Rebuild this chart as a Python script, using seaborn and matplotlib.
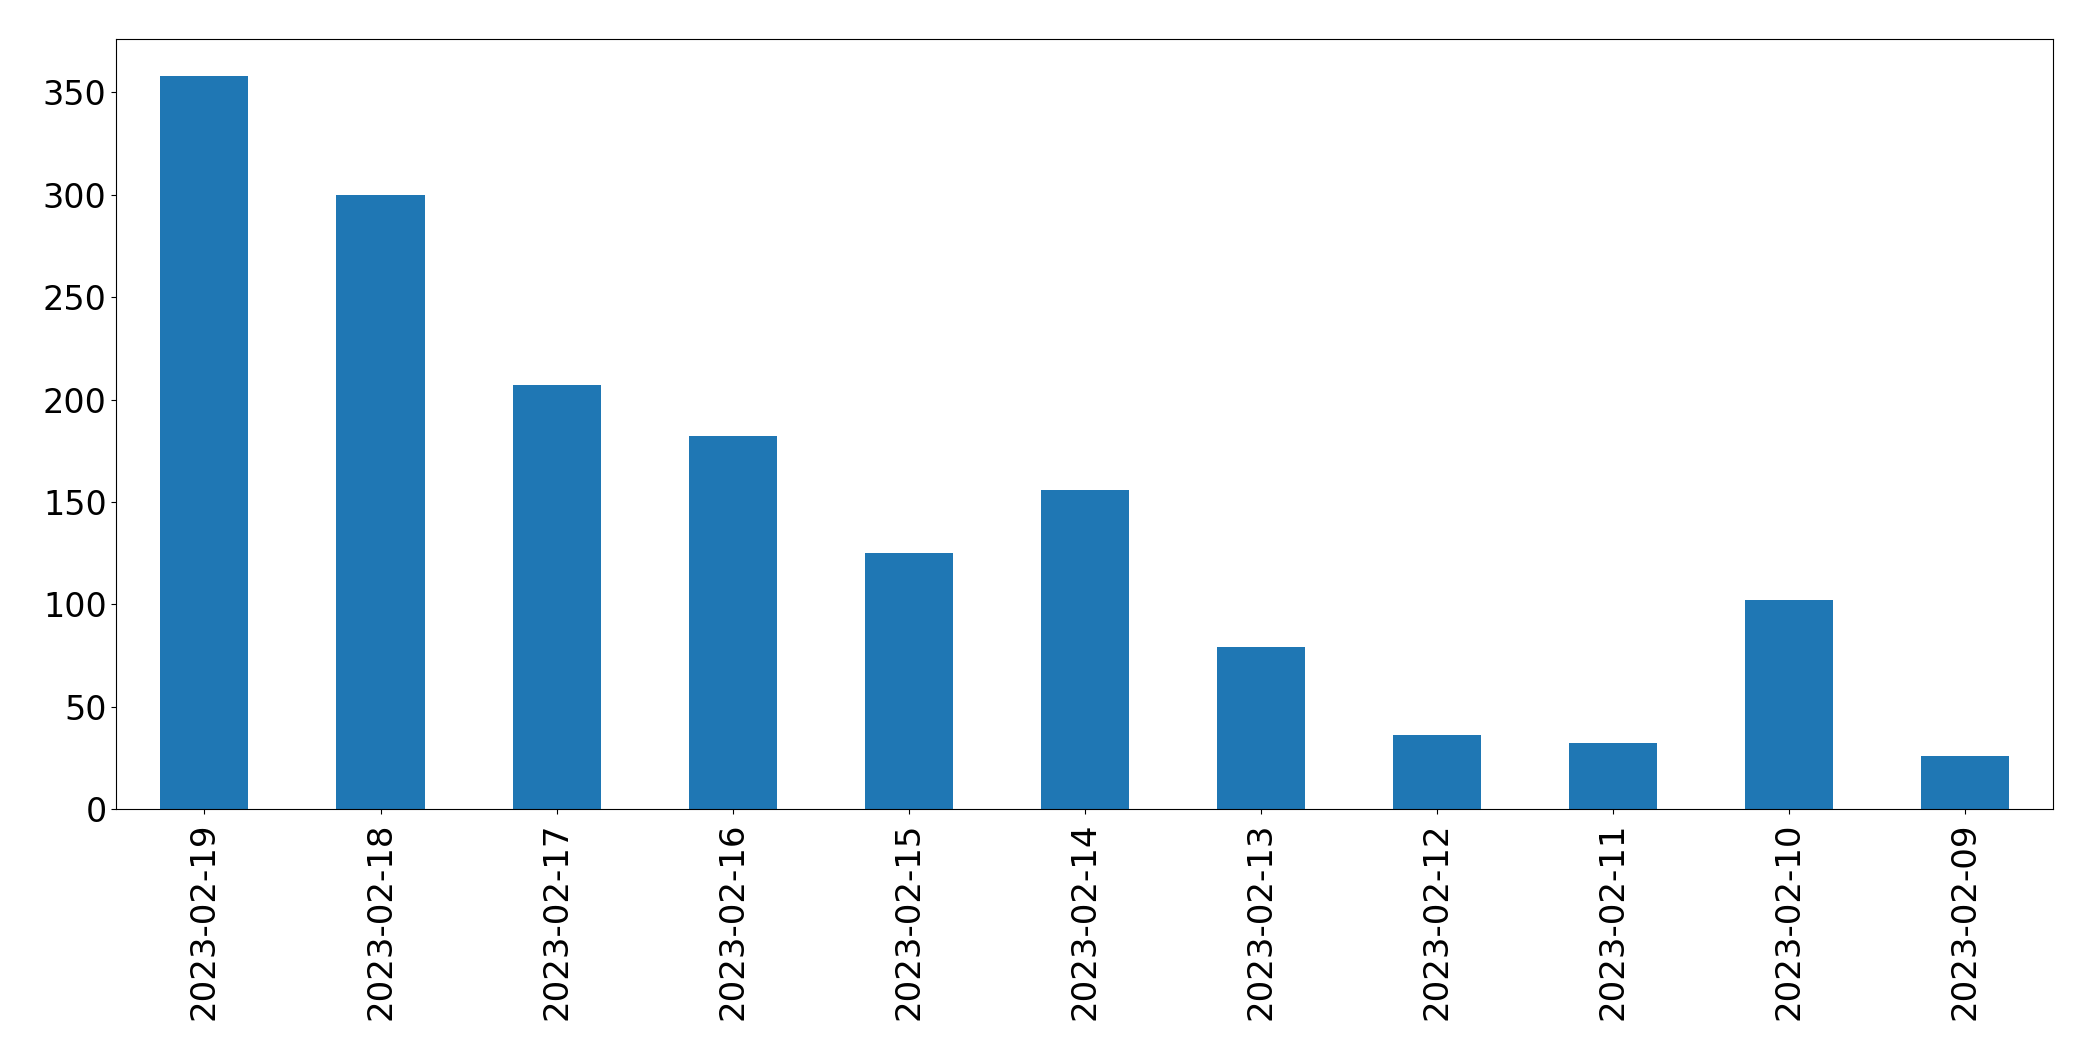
import matplotlib
matplotlib.use("Agg")
import matplotlib.pyplot as plt
import seaborn as sns
import pandas as pd

# daily counts, newest first (as in the reference)
dates = ['2023-02-19', '2023-02-18', '2023-02-17', '2023-02-16', '2023-02-15',
         '2023-02-14', '2023-02-13', '2023-02-12', '2023-02-11', '2023-02-10',
         '2023-02-09']
counts = [358, 300, 207, 182, 125, 156, 79, 36, 32, 102, 26]

df = pd.DataFrame({'date': dates, 'count': counts})

fig = plt.figure(figsize=(20.93, 10.61), dpi=100)
ax = fig.add_axes([0.0556, 0.2375, 0.9255, 0.7254])

sns.barplot(data=df, x='date', y='count', order=dates, color='#1f77b4',
            saturation=1, width=0.5, ax=ax)

ax.set_xlim(-0.5, len(dates) - 0.5)
ax.set_xlabel('')
ax.set_ylabel('')
ax.tick_params(axis='y', labelsize=24)
ax.tick_params(axis='x', labelsize=24.5, labelrotation=90, pad=6)

plt.savefig('out.png', dpi=100)
